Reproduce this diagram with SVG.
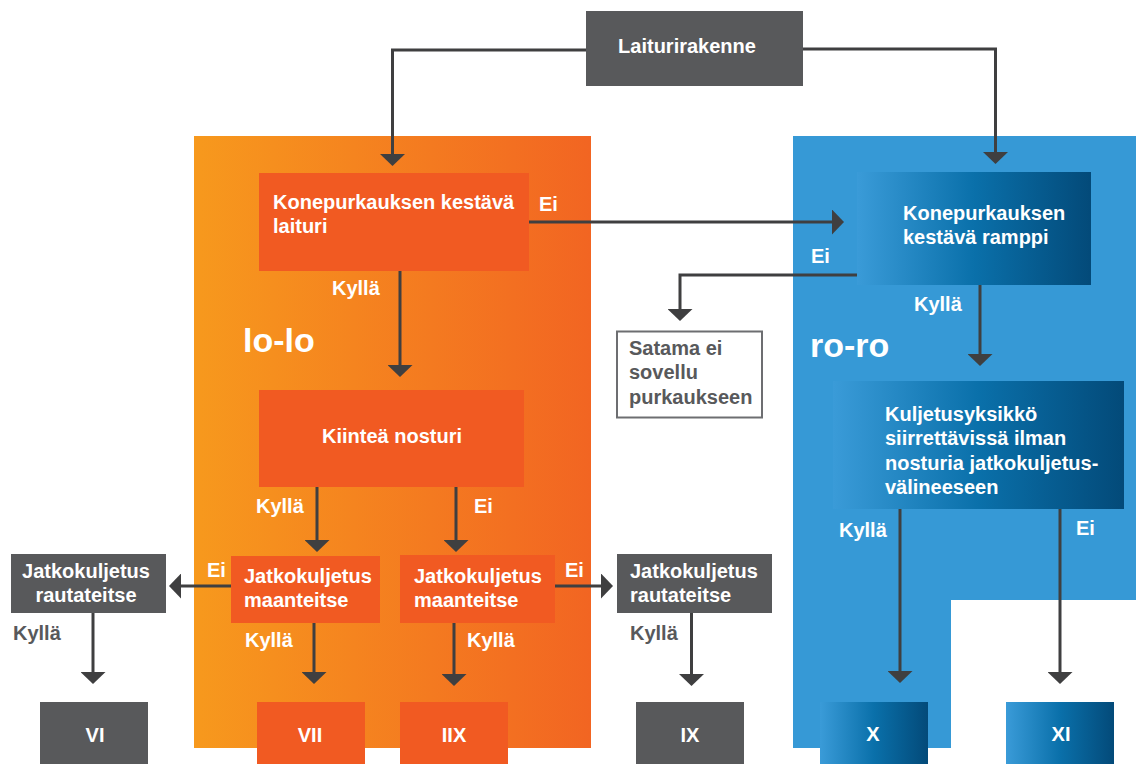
<svg xmlns="http://www.w3.org/2000/svg" width="1136" height="764" viewBox="0 0 1136 764">
<defs>
<linearGradient id="gOr" x1="0" y1="0" x2="1" y2="0">
<stop offset="0" stop-color="#f7991d"/>
<stop offset="1" stop-color="#f26522"/>
</linearGradient>
<linearGradient id="gBl" x1="0" y1="0" x2="1" y2="0">
<stop offset="0" stop-color="#3a9bd8"/>
<stop offset="0.5" stop-color="#0a70aa"/>
<stop offset="1" stop-color="#034a79"/>
</linearGradient>
<marker id="ah" viewBox="0 0 12 25" refX="0" refY="12.5" markerWidth="12" markerHeight="25" markerUnits="userSpaceOnUse" orient="auto">
<path d="M0,0 L12,12.5 L0,25 Z" fill="#3f3f40"/>
</marker>
<style>
text{font-family:"Liberation Sans",Arial,sans-serif;font-weight:bold;font-size:20px;fill:#fff}
.dk{fill:#58595b}
.mid{text-anchor:middle}
.big{font-size:34px}
.or{fill:#f15a22}
.gr{fill:#58595b}
.bl{fill:url(#gBl)}
.cn{fill:none;stroke:#3f3f40;stroke-width:3;marker-end:url(#ah)}
</style>
</defs>
<rect x="0" y="0" width="1136" height="764" fill="#fff"/>
<g id="panel-lolo">
<rect x="194" y="136" width="397" height="612" fill="url(#gOr)"/>
<text class="big" x="243" y="352">lo-lo</text>
</g>
<g id="panel-roro">
<path d="M793,136 H1136 V600 H951 V748 H793 Z" fill="#3699d6"/>
<text class="big" x="810" y="357">ro-ro</text>
</g>
<g id="connectors">
<polyline class="cn" points="586,50 392.5,50 392.5,154"/>
<polyline class="cn" points="802,49 995.5,49 995.5,152"/>
<polyline class="cn" points="529,222 832,222"/>
<polyline class="cn" points="857,275 680,275 680,309"/>
<polyline class="cn" points="980,285 980,354"/>
<polyline class="cn" points="400,271 400,365"/>
<polyline class="cn" points="317,487 317,540"/>
<polyline class="cn" points="456,487 456,540"/>
<polyline class="cn" points="231,586 181,586"/>
<polyline class="cn" points="555,586 601,586"/>
<polyline class="cn" points="93,613 93,672"/>
<polyline class="cn" points="314,623 314,672"/>
<polyline class="cn" points="454,623 454,674"/>
<polyline class="cn" points="691.5,613 691.5,674"/>
<polyline class="cn" points="900,509 900,671"/>
<polyline class="cn" points="1060,509 1060,672"/>
<text x="539" y="211">Ei</text>
<text x="332" y="295">Kyllä</text>
<text x="811" y="263">Ei</text>
<text x="914" y="311">Kyllä</text>
<text x="256" y="513">Kyllä</text>
<text x="474" y="513">Ei</text>
<text x="207" y="577">Ei</text>
<text x="565" y="577">Ei</text>
<text class="dk" x="13" y="640">Kyllä</text>
<text x="245" y="647">Kyllä</text>
<text x="467" y="647">Kyllä</text>
<text class="dk" x="630" y="640">Kyllä</text>
<text x="839" y="537">Kyllä</text>
<text x="1076" y="535">Ei</text>
</g>
<g id="n-laiturirakenne">
<rect class="gr" x="586" y="11" width="217" height="75"/>
<text class="mid" x="687" y="53">Laiturirakenne</text>
</g>
<g id="n-laituri">
<rect class="or" x="259" y="173" width="270" height="98"/>
<text x="273" y="209">Konepurkauksen kestävä</text>
<text x="273" y="233">laituri</text>
</g>
<g id="n-ramppi">
<rect class="bl" x="857" y="172" width="234" height="113"/>
<text x="903" y="220">Konepurkauksen</text>
<text x="903" y="244">kestävä ramppi</text>
</g>
<g id="n-satama">
<rect x="617" y="331.5" width="145" height="86" fill="#fff" stroke="#6d6e71" stroke-width="2"/>
<text class="dk" x="629" y="355">Satama ei</text>
<text class="dk" x="629" y="379">sovellu</text>
<text class="dk" x="629" y="404">purkaukseen</text>
</g>
<g id="n-kuljetus">
<rect class="bl" x="833" y="381" width="291" height="128"/>
<text x="885" y="421">Kuljetusyksikkö</text>
<text x="885" y="445">siirrettävissä ilman</text>
<text x="885" y="470">nosturia jatkokuljetus-</text>
<text x="885" y="494">välineeseen</text>
</g>
<g id="n-kiintea">
<rect class="or" x="259" y="390" width="265" height="97"/>
<text class="mid" x="392" y="443">Kiinteä nosturi</text>
</g>
<g id="n-maan-left">
<rect class="or" x="231" y="556" width="149" height="67"/>
<text x="244" y="583">Jatkokuljetus</text>
<text x="244" y="607">maanteitse</text>
</g>
<g id="n-maan-right">
<rect class="or" x="400" y="555" width="155" height="68"/>
<text x="414" y="583">Jatkokuljetus</text>
<text x="414" y="607">maanteitse</text>
</g>
<g id="n-rauta-left">
<rect class="gr" x="11" y="554" width="155" height="59"/>
<text class="mid" x="86" y="578">Jatkokuljetus</text>
<text class="mid" x="86" y="602">rautateitse</text>
</g>
<g id="n-rauta-right">
<rect class="gr" x="617" y="554" width="155" height="59"/>
<text x="630" y="578">Jatkokuljetus</text>
<text x="630" y="602">rautateitse</text>
</g>
<g id="n-VI">
<rect class="gr" x="40" y="702" width="108" height="62"/>
<text class="mid" x="95" y="742">VI</text>
</g>
<g id="n-VII">
<rect class="or" x="257" y="702" width="108" height="62"/>
<text class="mid" x="310" y="742">VII</text>
</g>
<g id="n-IIX">
<rect class="or" x="400" y="702" width="108" height="62"/>
<text class="mid" x="454" y="742">IIX</text>
</g>
<g id="n-IX">
<rect class="gr" x="636" y="702" width="108" height="62"/>
<text class="mid" x="690" y="742">IX</text>
</g>
<g id="n-X">
<rect class="bl" x="820" y="702" width="108" height="62"/>
<text class="mid" x="873" y="741">X</text>
</g>
<g id="n-XI">
<rect class="bl" x="1006" y="702" width="108" height="62"/>
<text class="mid" x="1061" y="741">XI</text>
</g>
</svg>
